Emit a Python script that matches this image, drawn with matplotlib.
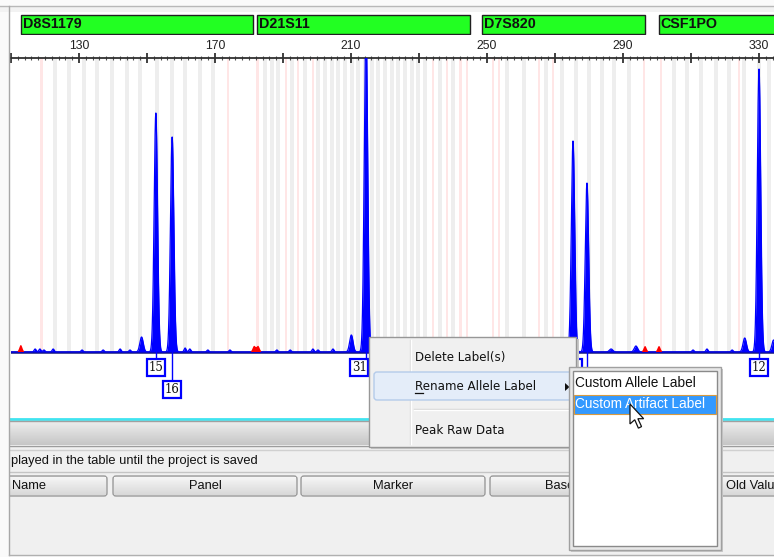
import numpy as np
import matplotlib
matplotlib.use('Agg')
import matplotlib.pyplot as plt
from matplotlib.patches import Rectangle, FancyBboxPatch, Polygon
from matplotlib.colors import LinearSegmentedColormap
from matplotlib.ticker import MultipleLocator, FixedLocator, FixedFormatter

# 标记区间 (bp)
marker_names = ['D8S1179', 'D21S11', 'D7S820', 'CSF1PO']
marker_start = [112.9, 182.4, 248.5, 300.6]
marker_end = [181.2, 245.0, 296.5, 345.0]

# 主峰位置与高度
peak_bp = [152.6, 157.4, 214.4, 275.3, 279.4, 330.0]
peak_h = [239, 215, 330, 211, 169, 283]

# 小峰
minor_bp = [148.4, 210.1, 286.5, 293.8, 325.8, 334.3]
minor_h = [15, 17, 3, 6, 14, 12]

# 基线噪声
noise_bp = [117.1, 118.5, 119.7, 122.4, 130.9, 137.1, 142.1, 145.0, 161.2, 162.6,
            167.9, 174.4, 188.2, 192.1, 198.8, 200.3, 204.7, 218.5, 224.4, 233.2,
            242.1, 247.9, 253.8, 259.7, 265.6, 310.6, 314.7, 322.1]
noise_h = [3, 3, 2, 3, 2, 2, 3, 2, 4, 3, 2, 2, 2, 2, 3, 2, 3, 2, 2, 2,
           3, 2, 2, 2, 3, 2, 3, 2]

# 红色峰 (内标)
red_bp = [112.9, 181.5, 182.7, 296.5, 300.6]
red_h = [7, 6, 6, 6, 6]

# allele bins
bin_gray = [122.9, 127.1, 131.5, 135.3, 139.7, 144.1, 147.9, 152.9, 157.4, 161.2,
            165.6, 169.4, 184.7, 186.8, 188.5, 192.6, 196.5, 200.3, 202.4, 204.4,
            206.2, 208.2, 210.3, 212.1, 214.2, 216.2, 217.9, 220.0, 222.1, 223.8,
            225.9, 227.9, 229.7, 231.8, 236.2, 240.0, 255.9, 260.9, 267.4, 272.1,
            276.2, 280.0, 283.8, 287.4, 291.8, 305.0, 308.8, 312.9, 317.4, 321.2,
            325.6, 330.0, 333.0]
bin_pink = [119.0, 173.8, 182.6, 190.9, 194.4, 198.8, 234.1, 238.2, 242.1, 244.1,
            251.8, 253.5, 265.3, 269.4, 296.2, 301.2, 324.1]

# allele 标签 (D7S820 的两个标签被菜单遮住, 文字不可见)
allele_text = ['15', '16', '31', '', '', '12']
allele_bp = [152.6, 157.4, 214.4, 275.3, 279.4, 330.0]
allele_row = [0, 1, 0, 0, 1, 0]

tick_major = [110, 130, 150, 170, 190, 210, 230, 250, 270, 290, 310, 330]
tick_labels = ['', '130', '', '170', '', '210', '', '250', '', '290', '', '330']

menu_items = ['Delete Label(s)', 'Rename Allele Label', 'Peak Raw Data']
submenu_items = ['Custom Allele Label', 'Custom Artifact Label']
table_headers = ['Name', 'Panel', 'Marker', 'Base', 'Old Value']
status_text = 'played in the table until the project is saved'

W, H = 774, 557
fig = plt.figure(figsize=(W / 100, H / 100), dpi=100)
fig.patch.set_facecolor('#fafafa')


def px_axes(z):
    a = fig.add_axes([0, 0, 1, 1], zorder=z)
    a.set_xlim(0, W)
    a.set_ylim(H, 0)
    a.axis('off')
    return a


def box(a, x0, y0, x1, y1, fc, ec='none', lw=1.0, z=1):
    a.add_patch(Rectangle((x0, y0), x1 - x0, y1 - y0, facecolor=fc,
                          edgecolor=ec, linewidth=lw, zorder=z))


def grad(a, x0, y0, x1, y1, c_top, c_bot, z=1):
    cmap = LinearSegmentedColormap.from_list('g', [c_top, c_bot])
    a.imshow(np.linspace(0, 1, 64).reshape(-1, 1), cmap=cmap, aspect='auto',
             extent=(x0, x1, y1, y0), zorder=z, interpolation='bilinear')


# ---- 背景窗口 ----
bg = px_axes(0)
box(bg, 0, 6, W, 12, '#f2f2f2')
bg.plot([0, W], [6, 6], color='#b8b8b8', lw=1)
box(bg, 10, 12, W, 418, 'white')
box(bg, 10, 446, W, 555, '#f0f0f0')
bg.set_xlim(0, W)
bg.set_ylim(H, 0)

# ---- 电泳图主区域 ----
ax = fig.add_axes([11 / W, (H - 418) / H, 763 / W, 360 / H], zorder=1)
ax.set_xlim(110, 110 + 763 / 3.4)
ax.set_ylim(-66, 294)
ax.set_facecolor('white')
for s in ['left', 'right', 'bottom']:
    ax.spines[s].set_visible(False)
ax.spines['top'].set_color('#303030')
ax.spines['top'].set_linewidth(1.3)
ax.xaxis.tick_top()
ax.xaxis.set_major_locator(FixedLocator(tick_major))
ax.xaxis.set_major_formatter(FixedFormatter(tick_labels))
ax.xaxis.set_minor_locator(MultipleLocator(2))
ax.tick_params(axis='x', which='major', direction='inout', length=7, width=1.2,
               color='#202020', pad=1, labelsize=8.8, labelcolor='#222222')
ax.tick_params(axis='x', which='minor', direction='inout', length=2.5, width=0.8,
               color='#505050')
ax.set_yticks([])
for t in ax.get_xticklabels():
    t.set_family('Liberation Sans')

ax.bar(bin_gray, 294, width=1.25, bottom=0, color='#eeeeee', zorder=0)
ax.bar(bin_pink, 294, width=0.8, bottom=0, color='#ffe6e6', zorder=0)

xs = np.linspace(110, 335, 6000)


def trace(pos, hts, sig):
    y = np.zeros_like(xs)
    for p, h in zip(pos, hts):
        y += h * np.exp(-0.5 * ((xs - p) / sig) ** 2)
    return y


blue = trace(peak_bp, peak_h, 0.5) + trace(minor_bp, minor_h, 0.5) + trace(noise_bp, noise_h, 0.3)
red = trace(red_bp, red_h, 0.45)
ax.axhline(0, color='#14147a', lw=1.8, zorder=2)
ax.fill_between(xs, 0, blue, color='#0000ff', lw=0, zorder=3)
ax.plot(xs, blue, color='#0000ff', lw=0.9, zorder=3)
ax.fill_between(xs, 0, red, where=red > 0.8, color='#ff0000', lw=0, zorder=4)

# allele 标签框
bw = 18 / 3.4
for txt, p, r in zip(allele_text, allele_bp, allele_row):
    top = -7 - 22 * r
    cx = p - 2.0 if txt == '31' else p
    ax.plot([p, p], [0, top], color='#0000ff', lw=1, zorder=4)
    ax.add_patch(Rectangle((cx - bw / 2, top - 17), bw, 17, facecolor='white',
                           edgecolor='#0000ff', lw=1.6, zorder=5))
    if txt:
        ax.text(cx, top - 8.5, txt, ha='center', va='center', fontsize=8.5,
                family='DejaVu Serif', color='#111111', zorder=6)

# ---- marker 条 ----
axm = fig.add_axes([11 / W, (H - 35) / H, 763 / W, 21 / H], sharex=ax, zorder=1)
axm.set_ylim(0, 1)
axm.axis('off')
for name, s0, s1 in zip(marker_names, marker_start, marker_end):
    axm.add_patch(Rectangle((s0, 0.05), s1 - s0, 0.9, facecolor='#22ff22',
                            edgecolor='#202020', lw=1.0))
    axm.text(s0 + 0.5, 0.5, name, ha='left', va='center', fontsize=10.3,
             fontweight='bold', family='Liberation Sans', color='#101010')
ax.set_xlim(110, 110 + 763 / 3.4)

# ---- 前景: 滚动条, 表格, 菜单 ----
fg = px_axes(5)
fg.patch.set_visible(False)
fg.plot([10, W], [418.5, 418.5], color='#40e4f0', lw=2)
fg.plot([10, W], [421, 421], color='#a0a0a0', lw=1)
grad(fg, 10, 422, W, 445, '#ececec', '#c6c6c6', z=1)
fg.plot([10, W], [445.5, 445.5], color='#9c9c9c', lw=1)
fg.plot([10, W], [450, 450], color='#d0d0d0', lw=1)
fg.plot([10, W], [472, 472], color='#c4c4c4', lw=1)
fg.text(11, 461, status_text, ha='left', va='center', fontsize=9.3,
        family='Liberation Sans', color='#111111')

# 表头按钮
hdr_x0 = [-6, 113, 301, 490, 719]
hdr_x1 = [107, 297, 485, 714, 820]
for i, (lab, a0, a1) in enumerate(zip(table_headers, hdr_x0, hdr_x1)):
    fg.add_patch(FancyBboxPatch((a0, 476), a1 - a0, 20, boxstyle='round,pad=0,rounding_size=3',
                                facecolor='#e6e6e6', edgecolor='#9a9a9a', lw=1, zorder=2))
    grad(fg, a0 + 1, 477, a1 - 1, 495, '#f6f6f6', '#d8d8d8', z=2)
    if i == 0:
        fg.text(12, 486, lab, ha='left', va='center', fontsize=9.3,
                family='Liberation Sans', color='#111111', zorder=3)
    elif i == 3:
        fg.text(545, 486, lab, ha='left', va='center', fontsize=9.3,
                family='Liberation Sans', color='#111111', zorder=3)
    elif i == 4:
        fg.text(726, 486, lab, ha='left', va='center', fontsize=9.3,
                family='Liberation Sans', color='#111111', zorder=3, clip_on=True)
    else:
        fg.text((a0 + a1) / 2, 486, lab, ha='center', va='center', fontsize=9.3,
                family='Liberation Sans', color='#111111', zorder=3)
# 左侧窗口边缘
box(fg, 0, 440, 9, H, '#fafafa', z=3)
fg.plot([9, 9], [6, 555], color='#a8a8a8', lw=1, zorder=3)
fg.plot([9, W], [554.5, 554.5], color='#b0b0b0', lw=1, zorder=3)

# 右键菜单
box(fg, 371, 339, 579, 449, '#c8c8c8', z=4)
box(fg, 369, 337, 576, 447, '#f0f0f0', ec='#979797', lw=1, z=5)
fg.plot([410, 410], [340, 444], color='#dedede', lw=1, zorder=6)
fg.plot([411, 411], [340, 444], color='#ffffff', lw=1, zorder=6)
fg.add_patch(FancyBboxPatch((374, 372), 199, 28, boxstyle='round,pad=0,rounding_size=3',
                            facecolor='#e4edf9', edgecolor='#b4cbea', lw=1, zorder=6))
fg.plot([414, 573], [409, 409], color='#d6d6d6', lw=1, zorder=6)
fg.plot([414, 573], [410, 410], color='#ffffff', lw=1, zorder=6)
menu_y = [357, 387, 430]
for lab, yy in zip(menu_items, menu_y):
    fg.text(415, yy, lab, ha='left', va='center', fontsize=8.6, family='DejaVu Sans',
            color='#111111', zorder=7)
fg.plot([415, 423], [393, 393], color='#111111', lw=0.9, zorder=7)
fg.add_patch(Polygon([(565, 383), (565, 391), (569.5, 387)], closed=True,
                     facecolor='#111111', edgecolor='none', zorder=7))

# 子菜单
box(fg, 571, 369, 723, 552, '#c8c8c8', z=7)
box(fg, 569, 367, 721, 550, '#e8e8e8', ec='#a0a0a0', lw=1, z=8)
box(fg, 573, 371, 717, 546, 'white', ec='#8a8a8a', lw=1, z=9)
fg.text(575, 383, submenu_items[0], ha='left', va='center', fontsize=9.8,
        family='Liberation Sans', color='#111111', zorder=10)
box(fg, 574, 395, 716, 414, '#3399ff', ec='#d89a40', lw=0.8, z=10)
fg.text(575, 404.5, submenu_items[1], ha='left', va='center', fontsize=9.8,
        family='Liberation Sans', color='white', zorder=11)

# 鼠标指针
cur = np.array([(0, 0), (0, 19), (4.5, 15), (8, 23), (11, 21.5), (7.5, 14), (13, 14)])
cur = cur * 1.05 + np.array([630, 404])
fg.add_patch(Polygon(cur, closed=True, facecolor='white', edgecolor='#111111',
                     lw=0.9, zorder=12))
fg.set_xlim(0, W)
fg.set_ylim(H, 0)

fig.savefig('out.png', dpi=100, facecolor=fig.get_facecolor())
